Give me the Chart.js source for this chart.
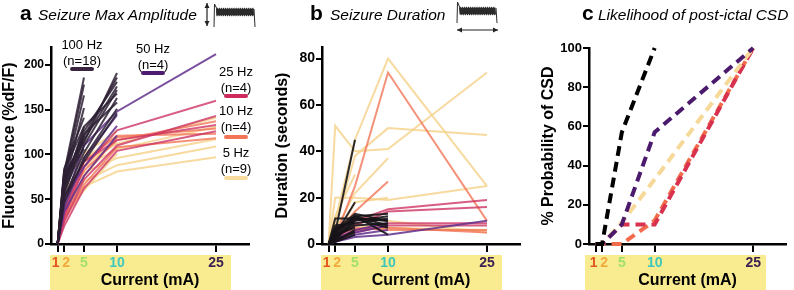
<!DOCTYPE html>
<html>
<head>
<meta charset="utf-8">
<script src="https://cdn.jsdelivr.net/npm/chart.js@4.4.1/dist/chart.umd.min.js"></script>
<style>
  body { margin: 0; width: 794px; height: 290px; position: relative; background: #fff; overflow: hidden;
         font-family: 'Liberation Sans', Arial, sans-serif; color: #000; }
  canvas { position: absolute; top: 0; }
  .t { position: absolute; white-space: nowrap; line-height: 1; }
  .lt { font-weight: bold; font-size: 21px; }
  .it { font-style: italic; font-size: 15.5px; }
  .leg { position: absolute; width: 80px; text-align: center; font-size: 13px; line-height: 16px; }
  .bar { position: absolute; height: 4px; width: 24px; border-radius: 2px; }
</style>
</head>
<body>
<canvas id="deco" width="794" height="290" style="left:0"></canvas>
<canvas id="chartA" width="265" height="290" style="left:0"></canvas>
<canvas id="chartB" width="265" height="290" style="left:265px"></canvas>
<canvas id="chartC" width="264" height="290" style="left:530px"></canvas>

<div class="t lt" style="left:20px;top:2px">a</div>
<div class="t it" style="left:38px;top:7px">Seizure Max Amplitude</div>
<div class="t lt" style="left:310px;top:2px">b</div>
<div class="t it" style="left:330px;top:7px">Seizure Duration</div>
<div class="t lt" style="left:582px;top:2px">c</div>
<div class="t it" style="left:598px;top:7px">Likelihood of post-ictal CSD</div>

<div id="legend"></div>

<script>
// x positions (mA) shared by all three panels
const currents = [1, 2, 5, 10, 25];
const xTickLabels = ['1 ', ' 2', '5', '10', '25'];
const xTickColors = ['#e4561e', '#f2aa3c', '#a2e06c', '#3ec7bd', '#3a2352'];

const freqLabels = ['100 Hz', '50 Hz', '25 Hz', '10 Hz', '5 Hz'];
const freqCounts = [18, 4, 4, 4, 9];
const freqColors = ['#3a2540', '#4d1c70', '#cf2a5c', '#f47458', '#f7dc9d'];

// panel a - max amplitude (%dF/F), one row per animal, values at currents[]
const amp100 = [
  [0, 80, 186], [0, 76, 178], [0, 72, 166], [0, 66, 152], [0, 84, 141], [0, 62, 131],
  [0, 56, 121], [0, 78, 114, 191], [0, 73, 120, 186], [0, 69, 126, 181], [0, 63, 116, 176],
  [0, 59, 110, 172], [0, 82, 131, 168], [0, 52, 102, 163], [0, 67, 123, 158], [0, 46, 96, 151],
  [0, 75, 106], [0, 53, 92, 146]
];
const amp50 = [[0, 45, 110, 148, 212], [0, 40, 96, 144], [0, 50, 86, 132], [0, 36, 76, 121]];
const amp25 = [[0, 30, 86, 127, 160], [0, 25, 72, 110, 143], [0, 35, 92, 116, 133], [0, 20, 62, 104, 126]];
const amp10 = [[0, 40, 82, 116, 137], [0, 30, 76, 119, 129], [0, 45, 92, 121, 123], [0, 26, 66, 108, 118]];
const amp5 = [
  [0, 79, 92, 112, 141], [0, 61, 86, 106, 131], [0, 50, 80, 96, 117], [0, 41, 70, 88, 109],
  [0, 36, 64, 81, 97], [0, 76, 101, 126], [0, 56, 88, 113], [0, 45, 95, 121], [0, 31, 60, 101]
];

// panel b - seizure duration (seconds)
const dur100 = [
  [0, 5, 45], [0, 4, 18], [0, 11, 11, 10], [0, 3, 12, 4], [0, 6, 13, 10], [0, 2, 10, 12],
  [0, 8, 9, 11], [0, 3, 8, 9], [0, 4, 7], [0, 2, 11, 10], [0, 5, 12, 13], [0, 1, 6],
  [0, 3, 9], [0, 7, 10], [0, 2, 5], [0, 4, 12, 8], [0, 1, 4], [0, 6, 11, 7]
];
const dur50 = [[0, 1, 3, 4, 10], [0, 2, 5, 8], [0, 1, 4, 6], [0, 2, 6, 9]];
const dur25 = [[0, 2, 8, 14, 16], [0, 1, 5, 8, 8], [0, 2, 6, 9, 9], [0, 3, 10, 15, 19]];
const dur10 = [[0, 3, 25, 74, 10], [0, 2, 6, 7, 5], [0, 1, 7, 6, 6], [0, 4, 14, 27]];
const dur5 = [
  [0, 51, 40, 41, 74], [0, 10, 45, 80, 25], [0, 8, 38, 50, 47], [0, 20, 20, 19, 25],
  [0, 6, 22, 37], [0, 3, 12, 10, 5], [0, 12, 30], [0, 4, 8, 7, 6], [0, 2, 18, 20]
];

// panel c - % probability of post-ictal CSD
const csd100 = [0, 0, 57, 100];
const csd50 = [0, 0, 10, 57, 100];
const csd25 = [0, 0, 10, 10, 100];
const csd10 = [0, 0, 0, 12, 100];
const csd5 = [0, 0, 11, 33, 100];

function toPoints(row) {
  return row.map((v, i) => ({ x: currents[i], y: v }));
}

function groupSets(rows, color, width) {
  return rows.map(r => ({
    data: toPoints(r), borderColor: color, borderWidth: width,
    pointRadius: 0, tension: 0, fill: false, clip: false
  }));
}

function dashedSet(row, color) {
  return {
    data: toPoints(row), borderColor: color, borderWidth: 4, borderDash: [10, 6],
    pointRadius: 0, tension: 0, fill: false, clip: false
  };
}

// yellow band behind the x tick labels
const bandPlugin = {
  id: 'band',
  beforeDraw(chart, args, opts) {
    const { ctx, chartArea } = chart;
    ctx.save();
    ctx.fillStyle = '#f9eb90';
    const top = chartArea.bottom + 11;
    ctx.fillRect(chartArea.left + opts.dx, top, opts.w, chart.height - top);
    ctx.restore();
  }
};

Chart.defaults.font.family = "'Liberation Sans', Arial, sans-serif";
Chart.defaults.color = '#000';

function makePanel(id, datasets, cfg) {
  return new Chart(document.getElementById(id), {
    type: 'line',
    data: { datasets: datasets },
    plugins: [bandPlugin],
    options: {
      responsive: false,
      animation: false,
      events: [],
      layout: { padding: { top: cfg.top, right: cfg.right, left: 0, bottom: 0 } },
      plugins: {
        legend: { display: false },
        tooltip: { enabled: false },
        band: { dx: cfg.bandDx, w: 181 }
      },
      scales: {
        x: {
          type: 'linear', min: 0, max: 30,
          afterBuildTicks: s => { s.ticks = currents.map(v => ({ value: v })); },
          afterFit: s => { s.height = 46; },
          grid: { drawOnChartArea: false, color: '#000', lineWidth: 2, tickLength: 8 },
          border: { color: '#000', width: 2.5 },
          ticks: {
            autoSkip: false, maxRotation: 0, padding: 3,
            font: { size: 14, weight: 'bold' },
            color: c => xTickColors[c.index],
            callback: (v, i) => xTickLabels[i]
          },
          title: {
            display: true, text: 'Current (mA)', color: '#000',
            font: { size: 16, weight: 'bold' }, padding: { top: 0, bottom: 0 }
          }
        },
        y: {
          min: 0, max: cfg.yMax,
          afterBuildTicks: s => { s.ticks = cfg.yTicks.map(v => ({ value: v })); },
          afterFit: s => { s.width = cfg.yWidth; },
          grid: { drawOnChartArea: false, color: '#000', lineWidth: 2, tickLength: 6 },
          border: { color: '#000', width: 2.5 },
          ticks: { padding: 1, font: { size: cfg.tickSize, weight: 'bold' } },
          title: {
            display: true, text: cfg.yTitle, color: '#000',
            font: { size: 16, weight: 'bold' }, padding: { top: cfg.titlePad, bottom: 0 }
          }
        }
      }
    }
  });
}

const lineCols = [
  'rgba(45,32,52,0.85)', 'rgba(98,48,140,0.85)', 'rgba(205,52,100,0.8)',
  'rgba(241,118,88,0.8)', 'rgba(246,212,142,0.85)'
];

makePanel('chartA', [
  ...groupSets(amp100, lineCols[0], 2), ...groupSets(amp50, lineCols[1], 2),
  ...groupSets(amp25, lineCols[2], 2), ...groupSets(amp10, lineCols[3], 2),
  ...groupSets(amp5, lineCols[4], 2)
], { top: 47, right: 16, yWidth: 51, yMax: 220, yTicks: [0, 50, 100, 150, 200],
     yTitle: 'Fluorescence (%dF/F)', tickSize: 12, titlePad: 0, bandDx: -1 });

makePanel('chartB', [
  ...groupSets(dur100, 'rgba(22,20,24,0.9)', 2), ...groupSets(dur50, lineCols[1], 2),
  ...groupSets(dur25, lineCols[2], 2), ...groupSets(dur10, lineCols[3], 2),
  ...groupSets(dur5, lineCols[4], 2)
], { top: 47, right: 10, yWidth: 57, yMax: 85, yTicks: [0, 20, 40, 60, 80],
     yTitle: 'Duration (seconds)', tickSize: 14, titlePad: 8, bandDx: -1 });

makePanel('chartC', [
  dashedSet(csd100, '#000'), dashedSet(csd50, '#4b1a6c'),
  dashedSet(csd5, '#f6d898'), dashedSet(csd25, '#d8324f'), dashedSet(csd10, '#f26b4c')
], { top: 48, right: 8, yWidth: 59, yMax: 100, yTicks: [0, 20, 40, 60, 80, 100],
     yTitle: '% Probability of CSD', tickSize: 13, titlePad: 9, bandDx: -4 });

// legend of panel a
const legendPos = [[82, 37, 69], [153, 41, 73], [236, 64, 96], [236, 103, 137], [236, 145, 178]];
const legend = document.getElementById('legend');
freqLabels.forEach((lab, i) => {
  const [cx, top, barY] = legendPos[i];
  const d = document.createElement('div');
  d.className = 'leg';
  d.style.left = (cx - 40) + 'px';
  d.style.top = top + 'px';
  d.innerHTML = lab + '<br>(n=' + freqCounts[i] + ')';
  legend.appendChild(d);
  const b = document.createElement('div');
  b.className = 'bar';
  b.style.left = (cx - 12) + 'px';
  b.style.top = (barY - 2) + 'px';
  b.style.background = freqColors[i];
  legend.appendChild(b);
});

// small trace icons next to the titles
const dctx = document.getElementById('deco').getContext('2d');
function drawTrace(x0, x1, yTop, yMid, yBot) {
  dctx.save();
  dctx.strokeStyle = '#2a2a2a';
  dctx.fillStyle = '#2a2a2a';
  dctx.lineWidth = 1;
  dctx.beginPath();
  dctx.moveTo(x0, yBot);
  dctx.lineTo(x0 + 0.5, yTop);
  dctx.lineTo(x0 + 3, yMid - 3);
  dctx.stroke();
  dctx.beginPath();
  dctx.moveTo(x0 + 2, yMid - 3);
  for (let x = x0 + 2, k = 0; x <= x1 - 1; x += 0.7, k++) dctx.lineTo(x, yMid - 3 - (k % 3) * 0.7);
  for (let x = x1 - 1, k = 0; x >= x0 + 2; x -= 0.7, k++) dctx.lineTo(x, yMid + 3 + (k % 3) * 0.7);
  dctx.closePath();
  dctx.fill();
  dctx.beginPath();
  dctx.moveTo(x1 - 1, yMid - 3);
  dctx.lineTo(x1, yBot);
  dctx.stroke();
  dctx.restore();
}
function drawArrow(x0, y0, x1, y1) {
  const ang = Math.atan2(y1 - y0, x1 - x0);
  dctx.save();
  dctx.strokeStyle = '#222';
  dctx.fillStyle = '#222';
  dctx.lineWidth = 1.2;
  dctx.beginPath();
  dctx.moveTo(x0, y0);
  dctx.lineTo(x1, y1);
  dctx.stroke();
  [[x0, y0, ang + Math.PI], [x1, y1, ang]].forEach(([x, y, a]) => {
    dctx.beginPath();
    dctx.moveTo(x, y);
    dctx.lineTo(x - 5 * Math.cos(a) + 2.5 * Math.sin(a), y - 5 * Math.sin(a) - 2.5 * Math.cos(a));
    dctx.lineTo(x - 5 * Math.cos(a) - 2.5 * Math.sin(a), y - 5 * Math.sin(a) + 2.5 * Math.cos(a));
    dctx.closePath();
    dctx.fill();
  });
  dctx.restore();
}
drawArrow(207, 3, 207, 26);
drawTrace(214, 255, 4, 12, 27);
drawTrace(457, 497, 2, 11, 23);
drawArrow(457, 30, 498, 30);
</script>
</body>
</html>
